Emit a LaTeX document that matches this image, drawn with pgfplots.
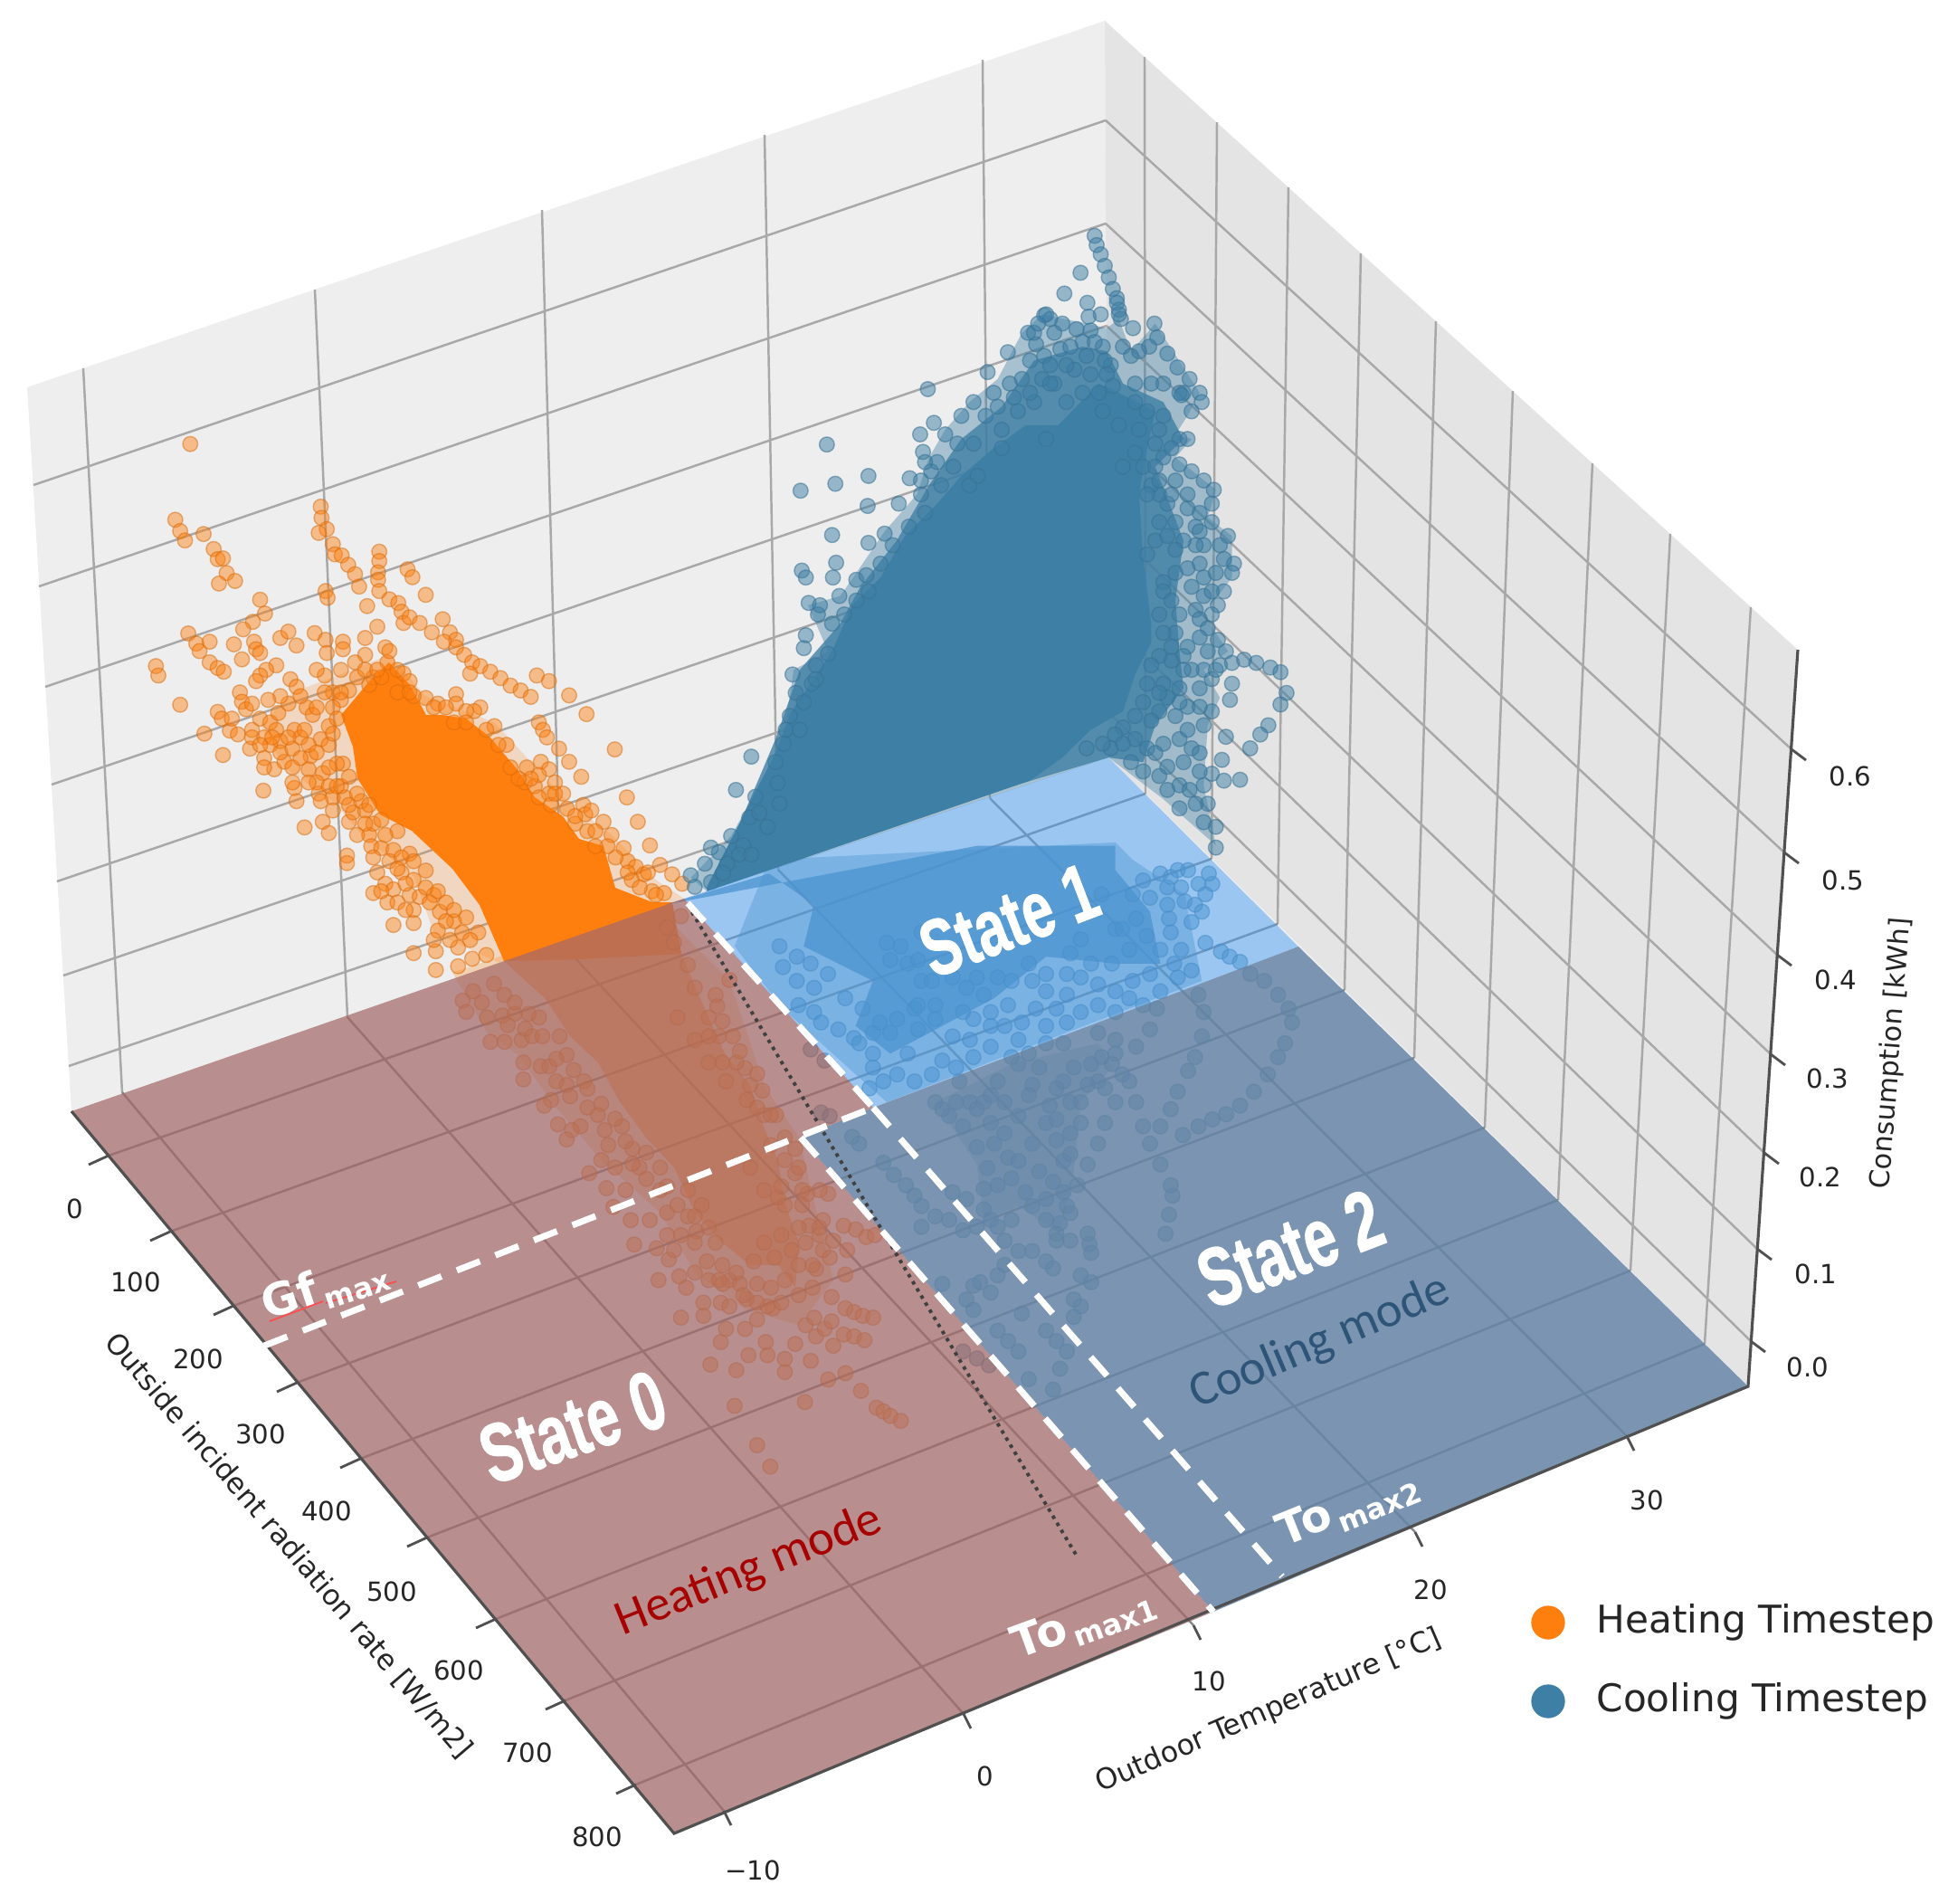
\documentclass[border=0pt]{standalone}
\usepackage{pgfplots}
\usepackage{pgfplotstable}
\usepackage{graphicx}
\usepackage{fontspec}
\pgfplotsset{compat=1.18}
\setmainfont{DejaVu Sans}
\newfontfamily\arialf{Liberation Sans}[BoldFeatures={FakeBold=1.5}]
\newfontfamily\carl{Carlito}

\definecolor{wallL}{HTML}{EEEEEE}
\definecolor{wallR}{HTML}{E4E4E4}
\definecolor{gridc}{HTML}{A8A8A8}
\definecolor{orangeC}{HTML}{FF7F0E}
\definecolor{blueC}{HTML}{3E7FA5}
\definecolor{st0}{HTML}{A46969}
\definecolor{st1}{HTML}{57A6F5}
\definecolor{st2}{HTML}{6685A7}
\definecolor{axisc}{HTML}{505050}
\definecolor{labelc}{HTML}{262626}
\definecolor{coolc}{HTML}{2E5578}

% points read off the crops, in crop pixels
\pgfplotstableread[row sep=\\]{
zx zy\\ 247 98\\ 210 300\\ 222 330\\ 234 355\\ 280 338\\ 305 378\\ 315 405\\ 328 403\\ 337 442\\ 358 463\\ 318 470\\
570 265\\ 572 295\\ 585 325\\ 565 335\\ 600 365\\ 605 392\\ 622 395\\ 638 420\\ 655 445\\ 665 478\\ 715 385\\ 715 410\\ 712 440\\ 712 460\\ 715 490\\ 785 432\\ 797 453\\ 830 500\\ 582 490\\ 587 508\\ 685 530\\ 420 513\\ 432 550\\ 402 572\\ 378 592\\ 740 512\\ 762 522\\ 770 545\\ 775 575\\ 790 560\\ 815 575\\ 710 585\\ 680 615\\ 845 600\\ 872 565\\ 890 600\\ 905 620\\ 875 625\\ 905 640\\ 925 660\\ 945 680\\ 965 690\\ 940 710\\ 990 705\\ 1015 722\\ 1040 742\\ 1065 755\\ 1090 772\\ 1105 715\\ 1135 730\\ 1185 768\\ 1228 818\\ 1298 912\\ 1110 840\\ 1120 860\\ 1130 880\\ 1160 910\\ 1185 945\\ 1215 985\\ 1115 945\\ 1135 965\\ 1150 1000\\ 1328 1040\\ 1355 1105\\ 1220 1060\\ 1225 1085\\ 1240 1075\\ 1270 1105\\ 1290 1140\\ 1320 1175\\ 1385 1168\\ 1330 1210\\ 1350 1225\\ 1410 1220\\ 1440 1245\\ 1465 1270\\ 1420 1295\\ 1370 1245\\
242 603\\ 262 630\\ 270 650\\ 295 625\\ 355 632\\ 375 672\\ 405 625\\ 410 645\\ 420 655\\ 295 680\\ 315 695\\ 330 705\\ 162 690\\ 168 715\\ 222 793\\ 470 615\\ 490 598\\ 510 635\\ 555 602\\ 582 620\\ 625 625\\ 625 645\\ 585 655\\ 680 660\\ 655 680\\ 730 640\\ 735 680\\ 460 688\\ 435 700\\ 420 715\\ 410 730\\ 495 725\\ 510 745\\ 580 715\\ 600 760\\ 640 755\\ 370 760\\ 375 785\\ 385 805\\ 315 812\\ 325 830\\ 282 870\\ 345 862\\ 365 872\\ 400 860\\ 420 830\\ 445 840\\ 465 815\\ 460 860\\ 470 890\\ 505 860\\ 535 800\\ 550 820\\ 570 885\\ 590 850\\ 395 910\\ 328 927\\ 430 935\\ 455 965\\ 480 945\\ 500 960\\ 545 930\\ 575 975\\ 505 1015\\ 510 1050\\ 428 1022\\ 565 1030\\ 600 1040\\ 630 1040\\ 600 1075\\ 530 1120\\ 575 1105\\ 590 1135\\ 640 1105\\ 625 950\\ 650 1080\\ 680 1075\\ 690 1140\\ 695 1170\\ 720 1175\\ 635 1195\\ 635 1215\\ 710 1240\\ 730 1270\\ 700 1295\\ 750 1285\\ 735 1320\\ 790 1300\\ 815 1305\\ 800 1340\\ 830 1235\\ 750 1380\\ 800 1375\\ 865 1345\\ 860 1395\\ 900 1370\\ 855 1450\\ 800 1455\\ 910 1440\\ 945 1470\\ 855 1500\\ 910 1490\\ 960 1400\\ 760 1130\\ 790 1190\\ 850 1300\\ 880 1320\\ 920 1400\\ 980 1460\\ 775 710\\ 790 730\\ 830 775\\ 905 765\\ 905 790\\ 965 800\\ 1075 1000\\ 1100 1010\\ 1135 1030\\
400 880\\ 430 880\\ 445 900\\ 430 960\\ 470 920\\ 500 910\\ 520 935\\ 540 965\\ 560 1000\\ 590 1010\\ 620 1010\\ 640 1060\\ 670 1050\\ 700 1110\\ 730 1140\\ 750 1180\\ 770 1240\\ 800 1260\\ 840 1320\\ 880 1370\\ 700 720\\ 660 720\\ 620 780\\ 600 800\\ 580 760\\ 560 700\\ 620 700\\ 680 700\\ 1170 1030\\ 1200 1110\\ 1230 1130\\ 1300 1200\\ 1340 1260\\ 1390 1290\\ 1110 980\\ 1080 960\\ 1030 900\\ 1000 850\\ 950 810\\ 860 790\\ 800 770\\ 760 760\\
620 760\\ 610 830\\ 590 900\\ 610 950\\ 640 985\\ 660 1030\\ 690 1060\\ 720 1100\\ 680 1110\\ 660 1140\\ 700 1200\\ 740 1210\\ 770 1200\\ 800 1210\\ 780 1270\\ 760 1320\\ 830 1280\\ 860 1290\\ 900 1340\\ 930 1360\\ 890 1420\\ 940 1420\\ 850 1420\\ 760 1230\\ 720 1290\\ 780 1340\\ 520 880\\ 540 900\\ 490 880\\ 450 880\\ 420 900\\ 500 1000\\ 540 1000\\ 570 1050\\ 610 1010\\ 590 960\\ 560 920\\ 530 860\\ 600 870\\ 560 800\\ 520 770\\ 490 790\\ 470 770\\ 440 780\\ 400 790\\ 350 830\\ 1090 990\\ 1110 1040\\ 1140 1060\\ 1180 1070\\ 1200 1090\\ 1250 1130\\ 1280 1170\\ 1330 1240\\ 1360 1280\\ 1250 1170\\ 1380 1240\\ 1400 1300\\ 1060 990\\ 1040 960\\ 1010 900\\ 980 860\\ 930 810\\ 1150 1030\\ 690 740\\ 720 720\\ 760 700\\ 740 650\\ 710 700\\ 790 760\\ 850 800\\ 880 800\\ 900 840\\ 930 840\\
}\orangewall

\pgfplotstableread[row sep=\\]{
zx zy\\ 30 255\\ 85 260\\ 40 285\\ 150 240\\ 145 295\\ 110 365\\ 150 365\\ 200 360\\ 205 420\\ 205 465\\ 255 430\\ 285 520\\ 265 535\\ 345 600\\ 305 585\\ 330 625\\ 370 590\\ 430 680\\ 395 715\\ 470 700\\ 445 755\\ 500 760\\ 465 805\\ 515 840\\ 570 840\\ 525 905\\ 590 915\\ 625 945\\ 640 920\\ 595 1000\\ 655 990\\ 675 1020\\ 725 1060\\ 725 1095\\ 660 1100\\ 775 1060\\ 790 1130\\ 775 1165\\ 745 1225\\ 820 1240\\ 855 1200\\ 815 1335\\ 880 1440\\ 918 1497\\ 1018 1325\\ 1085 1265\\ 1135 1248\\ 1180 1295\\ 1225 1340\\ 1245 1350\\ 1265 1362\\ 1295 1375\\ 1035 1215\\ 960 1245\\ 910 1200\\ 905 1165\\ 845 1130\\ 880 1105\\ 925 1075\\ 960 1210\\ 990 1170\\ 1020 1120\\ 1050 1150\\ 1075 1130\\ 1100 1175\\ 1130 1145\\ 1160 1150\\ 1190 1160\\ 1135 1075\\ 1160 1085\\ 1185 1095\\ 1215 1100\\ 1095 1045\\ 1045 1100\\ 1095 1110\\ 1040 1020\\ 1135 985\\ 1050 970\\ 1140 920\\ 1130 855\\ 1165 865\\ 1195 885\\ 1220 880\\ 1100 895\\ 1030 855\\ 1060 880\\ 1085 770\\ 1025 770\\ 990 715\\ 935 560\\ 895 495\\ 845 435\\ 810 350\\ 770 350\\ 740 350\\ 765 270\\ 800 200\\ 660 30\\ 250 300\\ 310 350\\ 330 400\\ 380 470\\ 430 530\\ 490 590\\ 540 700\\ 620 820\\ 680 830\\ 705 870\\ 735 950\\ 800 1000\\ 850 1050\\ 960 800\\ 1000 700\\ 1000 1040\\ 910 1070\\ 960 1000\\ 870 950\\ 780 1010\\ 700 980\\
100 300\\ 180 290\\ 230 350\\ 280 430\\ 330 480\\ 390 540\\ 440 600\\ 520 650\\ 560 730\\ 600 760\\ 650 800\\ 700 900\\ 740 1000\\ 780 960\\ 830 1010\\ 880 1010\\ 930 940\\ 980 920\\ 1020 900\\ 1070 840\\ 1000 860\\ 940 780\\ 900 760\\ 860 700\\ 960 680\\ 920 640\\ 900 560\\ 850 520\\ 790 470\\ 740 420\\ 700 360\\ 650 300\\
60 230\\ 120 210\\ 180 260\\ 220 290\\ 160 320\\ 210 330\\ 260 350\\ 300 410\\ 350 440\\ 300 470\\ 340 510\\ 390 490\\ 420 560\\ 470 570\\ 500 630\\ 450 640\\ 520 690\\ 560 660\\ 600 700\\ 620 750\\ 680 760\\ 720 800\\ 660 880\\ 620 880\\ 700 830\\ 740 860\\ 760 900\\ 770 1000\\ 820 980\\ 840 1040\\ 800 1070\\ 880 1060\\ 920 1020\\ 950 1060\\ 1000 960\\ 1040 960\\ 1070 920\\ 1090 940\\ 1060 760\\ 1010 760\\ 950 750\\ 990 650\\ 960 620\\ 920 560\\ 880 540\\ 860 480\\ 820 420\\ 780 420\\ 740 300\\ 760 240\\ 700 220\\ 680 160\\ 640 100\\ 620 60\\ 780 310\\ 830 390\\ 880 450\\ 1060 860\\ 1010 800\\ 950 880\\ 900 900\\
}\orangefloor

\pgfplotstableread[row sep=\\]{
zx zy\\ 1030 60\\ 1035 80\\ 1045 100\\ 1055 125\\ 1065 150\\ 1075 175\\ 1085 195\\ 1090 220\\ 1095 240\\ 1085 205\\ 1090 230\\
995 140\\ 955 185\\ 1012 205\\ 1015 235\\ 1045 230\\ 905 232\\ 920 240\\ 950 250\\ 985 262\\ 1020 265\\ 865 270\\ 885 295\\ 905 320\\ 815 312\\ 765 355\\ 870 330\\ 920 340\\ 945 305\\ 1010 320\\ 1050 300\\ 1070 340\\ 1055 330\\ 1060 360\\ 1075 385\\ 1100 300\\ 1125 260\\ 1178 250\\ 1185 280\\ 1210 315\\ 1235 345\\ 1265 370\\ 1290 400\\ 1295 420\\ 1270 440\\ 1250 400\\ 1120 320\\ 1140 310\\ 1165 300\\
617 392\\ 632 465\\ 598 490\\ 605 528\\ 572 585\\ 470 580\\ 367 512\\ 302 612\\ 388 597\\ 468 645\\ 545 640\\ 600 590\\ 625 570\\ 380 708\\ 470 725\\ 510 705\\ 390 768\\ 382 800\\ 305 785\\ 315 800\\ 440 805\\ 465 795\\ 398 840\\ 322 855\\ 345 880\\ 315 925\\ 310 953\\ 370 965\\ 340 990\\ 282 1010\\ 290 1050\\ 275 1100\\ 265 1130\\ 180 1188\\ 142 1260\\ 190 1275\\ 245 1245\\ 240 1200\\ 130 1360\\ 175 1320\\ 80 1385\\ 100 1395\\ 65 1420\\ 30 1445\\ 80 1460\\ 120 1420\\ 160 1380\\ 220 1340\\
660 490\\ 700 450\\ 730 420\\ 780 400\\ 820 380\\ 850 370\\ 880 420\\ 840 440\\ 800 480\\ 730 510\\ 640 550\\ 600 620\\ 720 600\\ 740 580\\ 800 520\\ 910 500\\ 960 420\\ 1000 400\\ 1050 440\\ 1090 470\\ 1140 480\\ 1200 450\\ 1240 500\\ 1260 500\\ 1200 540\\ 1240 555\\ 1270 570\\ 1300 590\\ 1325 610\\ 1320 640\\ 1290 660\\ 1260 650\\ 1210 640\\ 1190 620\\ 1170 600\\ 1150 560\\ 1220 620\\
1320 680\\ 1360 710\\ 1375 770\\ 1370 790\\ 1350 830\\ 1335 860\\ 1320 880\\ 1300 730\\ 1280 730\\ 1250 720\\ 1230 790\\ 1200 810\\ 1180 720\\ 1160 750\\ 1290 770\\ 1300 800\\ 1300 840\\ 1280 870\\ 1240 880\\ 1200 830\\ 1230 920\\ 1260 950\\ 1290 890\\ 1310 910\\ 1335 935\\ 1355 960\\ 1370 985\\ 1400 978\\ 1430 985\\ 1465 995\\ 1490 1005\\ 1505 1050\\ 1490 1075\\ 1460 1120\\ 1440 1140\\ 1415 1170\\ 1370 1030\\ 1365 1065\\ 1320 1090\\ 1320 1020\\ 1300 1000\\ 1290 1040\\ 1270 1000\\ 1250 970\\ 1220 980\\ 1190 970\\ 1160 1030\\ 1200 1030\\ 1240 1040\\ 1260 1080\\ 1300 1120\\ 1355 1145\\ 1230 1100\\ 1190 1090\\ 1170 1110\\ 1100 1125\\ 1130 1150\\ 1160 1170\\ 1200 1160\\ 1240 1150\\ 1270 1170\\ 1210 1210\\ 1240 1250\\ 1265 1260\\ 1300 1250\\ 1345 1195\\ 1320 1225\\ 1390 1238\\ 1350 1240\\ 1310 1290\\ 1330 1340\\ 1300 1330\\ 1330 1385\\ 1280 1290\\ 1240 1300\\ 1210 1260\\ 1190 1230\\ 1150 1220\\ 1120 1200\\ 1080 1140\\ 1070 1170\\
350 860\\ 380 900\\ 410 880\\ 440 850\\ 470 830\\ 500 770\\ 530 730\\ 570 690\\ 610 660\\ 650 600\\ 680 560\\ 610 550\\ 690 510\\ 760 450\\ 790 430\\ 830 410\\ 870 400\\ 900 370\\ 930 380\\ 980 350\\ 1020 360\\ 1040 400\\ 330 1030\\ 310 1070\\ 300 1130\\ 340 1020\\ 260 1160\\ 250 1290\\ 200 1310\\ 150 1400\\ 180 1400\\ 110 1440\\ 40 1470\\
1130 420\\ 1160 440\\ 1190 480\\ 1220 520\\ 1180 560\\ 1160 620\\ 1190 680\\ 1210 710\\ 1230 740\\ 1260 780\\ 1270 820\\ 1220 850\\ 1190 880\\ 1200 920\\ 1220 950\\ 1250 1000\\ 1240 1070\\ 1210 1060\\ 1190 1050\\ 1150 1070\\ 1130 1100\\ 1100 1160\\ 1050 1160\\ 1010 1170\\ 1180 1180\\ 1260 1130\\ 1290 1180\\ 1290 1220\\ 1250 1200\\ 1290 1080\\ 1330 1000\\ 1310 960\\ 1340 990\\ 1290 930\\ 1170 990\\ 1230 680\\ 1280 690\\ 1340 730\\ 1350 760\\ 1330 790\\ 1320 830\\ 1290 700\\ 1260 620\\ 1230 590\\ 1190 590\\ 1130 530\\ 1100 560\\ 1180 510\\ 1200 380\\ 1170 380\\ 1130 380\\ 1240 400\\ 1245 405\\ 1000 290\\ 970 300\\ 1030 290\\ 880 270\\ 890 250\\ 910 230\\ 930 270\\ 960 340\\ 920 380\\
}\bluewall

\pgfplotstableread[row sep=\\]{
zx zy\\ 40 310\\ 80 350\\ 130 370\\ 85 420\\ 130 440\\ 150 470\\ 200 490\\ 245 515\\ 260 530\\ 290 660\\ 300 560\\ 350 500\\ 430 490\\ 440 350\\ 350 290\\ 400 300\\ 600 340\\ 500 580\\ 580 520\\ 720 520\\ 800 480\\ 860 390\\ 870 270\\ 900 230\\ 1000 200\\ 1050 100\\ 1150 130\\ 1155 170\\ 1180 30\\ 1240 70\\ 1260 240\\ 1305 265\\ 1330 280\\ 1360 295\\ 1220 180\\ 1220 320\\ 1120 430\\ 1100 490\\ 1000 440\\ 950 500\\ 900 440\\ 800 380\\ 750 300\\ 690 420\\ 640 480\\ 560 440\\ 480 420\\ 400 560\\ 300 500\\ 420 430\\ 960 100\\ 1020 200\\ 1100 330\\ 1180 340\\ 850 530\\ 950 360\\ 1050 350\\ 1150 80\\ 1200 120\\ 1280 70\\ 1080 60\\ 920 150\\
30 250\\ 80 280\\ 120 300\\ 170 330\\ 220 400\\ 270 430\\ 320 470\\ 370 460\\ 430 420\\ 480 460\\ 530 510\\ 590 460\\ 640 440\\ 680 480\\ 730 470\\ 770 430\\ 830 430\\ 860 470\\ 800 530\\ 750 560\\ 700 570\\ 640 540\\ 590 570\\ 540 600\\ 470 620\\ 420 640\\ 370 620\\ 330 640\\ 300 600\\ 950 420\\ 1000 380\\ 1040 400\\ 1080 420\\ 1130 380\\ 1170 300\\ 1190 260\\ 1130 260\\ 1160 210\\ 1230 130\\ 1190 80\\ 1260 100\\ 1270 40\\ 1210 30\\ 1130 40\\ 1100 110\\ 1060 170\\ 1090 220\\ 1040 260\\ 990 300\\ 930 300\\ 900 340\\ 860 330\\ 800 330\\ 760 350\\ 700 350\\ 660 340\\ 620 390\\ 570 370\\ 530 340\\ 470 350\\ 430 290\\ 380 250\\ 340 240\\ 440 210\\ 1160 50\\ 1250 150\\
1390 330\\ 1430 350\\ 1470 390\\ 1500 430\\ 1510 470\\ 1490 530\\ 1470 570\\ 1440 620\\ 1400 670\\ 1360 710\\ 1320 735\\ 1280 750\\ 1240 770\\ 1195 795\\ 1240 390\\ 1255 440\\ 1250 510\\ 1230 570\\ 1210 610\\ 1180 670\\ 1160 720\\ 1130 770\\ 1040 640\\ 1060 700\\ 1080 770\\ 1100 820\\ 1130 880\\ 1160 940\\ 1165 970\\ 1155 1025\\ 1145 1080\\ 1000 700\\ 970 760\\ 950 820\\ 920 880\\ 890 940\\ 860 1000\\ 840 1050\\ 830 1100\\ 800 1160\\
480 700\\ 520 740\\ 560 770\\ 600 830\\ 630 890\\ 620 1010\\ 640 1040\\ 660 1060\\ 560 1070\\ 520 1040\\ 480 1030\\ 440 1060\\ 440 1000\\ 420 970\\ 395 940\\ 360 910\\ 330 875\\ 240 800\\ 260 820\\ 680 790\\ 720 740\\ 760 650\\ 800 760\\ 830 810\\ 850 870\\ 780 900\\ 740 960\\ 800 1040\\ 830 1080\\ 870 1020\\ 850 960\\ 900 700\\ 950 640\\ 990 590\\ 1000 520\\ 930 590\\ 880 600\\ 830 660\\ 780 600\\ 720 590\\ 660 640\\ 620 700\\ 580 700\\ 550 640\\ 1060 540\\ 870 1100\\ 820 1180\\ 760 1130\\ 920 1080\\ 925 1110\\ 930 1135\\ 900 1200\\ 930 1220\\ 880 1270\\ 900 1290\\ 880 1320\\ 730 1310\\ 680 1170\\ 660 1200\\ 640 1250\\ 610 1220\\ 590 1230\\ 570 1270\\ 590 1300\\ 500 1225\\ 660 1360\\ 690 1390\\ 720 1420\\ 800 1360\\ 830 1390\\ 860 1420\\ 840 1470\\ 820 1530\\ 750 1500\\ 560 1420\\ 600 1440\\ 635 1460\\ 150 730\\ 175 740\\ 120 548\\ 160 580\\
500 720\\ 540 700\\ 600 720\\ 640 760\\ 650 820\\ 690 860\\ 720 870\\ 760 820\\ 810 710\\ 850 640\\ 870 700\\ 830 750\\ 870 790\\ 900 760\\ 870 850\\ 700 920\\ 660 940\\ 620 950\\ 570 980\\ 530 960\\ 760 1000\\ 700 1040\\ 680 1100\\ 720 1130\\ 600 1060\\ 820 930\\ 800 980\\ 750 680\\ 680 700\\ 640 680\\ 1000 560\\ 960 570\\ 970 660\\ 1020 620\\ 920 650\\
}\bluefloor

\pgfplotsset{
  /pgfplots/table/cropA/.style={/pgfplots/table/x expr=100+\thisrow{zx}/2.24, /pgfplots/table/y expr=450+\thisrow{zy}/2.412},
  /pgfplots/table/cropB/.style={/pgfplots/table/x expr=750+\thisrow{zx}/2.24, /pgfplots/table/y expr=230+\thisrow{zy}/1.96},
  /pgfplots/table/cropC/.style={/pgfplots/table/x expr=500+\thisrow{zx}/2.613, /pgfplots/table/y expr=1000+\thisrow{zy}/2.412},
  /pgfplots/table/cropD/.style={/pgfplots/table/x expr=850+\thisrow{zx}/2.613, /pgfplots/table/y expr=950+\thisrow{zy}/2.613},
  orangepts/.style={only marks, mark=*, mark size=2.35pt, mark options={fill=orangeC, draw=orangeC!85!black, fill opacity=.45, draw opacity=.5, line width=.4pt}},
  bluepts/.style={only marks, mark=*, mark size=2.35pt, mark options={fill=blueC, draw=blueC!90!black, fill opacity=.5, draw opacity=.55, line width=.4pt}},
  whitedash/.style={white, line width=2pt, dash pattern=on 7.8pt off 5.2pt},
}

\begin{document}
\begin{tikzpicture}
\begin{axis}[
  x=0.01cm, y=0.01cm,
  xmin=0, xmax=2164, ymin=0, ymax=2104,
  y dir=reverse,
  hide axis,
  clip=true,
  clip mode=individual,
  clip marker paths=true,
  unbounded coords=jump,
]
% page, keeps the picture at full size
\addplot[fill=white, draw=none] coordinates {(0,0) (2164,0) (2164,2104) (0,2104)} --cycle;
% panes
\addplot[fill=wallL, draw=none] coordinates {(79,1228) (30,428) (1221,23) (1225,837)} --cycle;
\addplot[fill=wallR, draw=none] coordinates {(1225,837) (1221,23) (1987,718) (1932,1532)} --cycle;
\addplot[fill=wallL, draw=none] coordinates {(79,1228) (1225,837) (1932,1532) (745,2026)} --cycle;
% grid on the walls
\addplot[gridc, line width=.7pt] coordinates {
 (92,407) (135,1207) (nan,nan) (348,320) (384,1124) (nan,nan) (599,232) (621,1043) (nan,nan) (845,149) (860,961) (nan,nan) (1086,66) (1094,882) (nan,nan)
 (76,1178) (1225,787) (nan,nan) (70,1078) (1224,685) (nan,nan) (63,974) (1224,579) (nan,nan) (57,867) (1223,470) (nan,nan) (50,759) (1223,360) (nan,nan) (43,648) (1222,247) (nan,nan) (37,536) (1222,133) (nan,nan)
 (1225,787) (1935,1482) (nan,nan) (1224,685) (1942,1380) (nan,nan) (1224,579) (1950,1274) (nan,nan) (1223,470) (1957,1165) (nan,nan) (1223,360) (1964,1055) (nan,nan) (1222,247) (1972,942) (nan,nan) (1222,133) (1980,828) (nan,nan)
 (1265,63) (1266,877) (nan,nan) (1345,135) (1339,949) (nan,nan) (1424,207) (1412,1021) (nan,nan) (1504,280) (1486,1094) (nan,nan) (1587,355) (1563,1169) (nan,nan) (1672,432) (1641,1246) (nan,nan) (1760,512) (1722,1326) (nan,nan) (1846,590) (1802,1404) (nan,nan) (1935,671) (1884,1485)
};
% grid on the floor
\addplot[gridc!80!black, line width=.7pt] coordinates {
 (120,1277) (1266,877) (nan,nan) (188,1361) (1339,949) (nan,nan) (258,1443) (1412,1021) (nan,nan) (328,1528) (1486,1094) (nan,nan) (398,1612) (1563,1169) (nan,nan) (472,1699) (1641,1246) (nan,nan) (548,1789) (1722,1326) (nan,nan) (625,1879) (1802,1404) (nan,nan) (703,1972) (1884,1485) (nan,nan)
 (800,2001) (135,1207) (nan,nan) (1065,1894) (384,1124) (nan,nan) (1319,1796) (621,1043) (nan,nan) (1564,1693) (860,961) (nan,nan) (1798,1587) (1094,882)
};
% dense cores of the clouds
\addplot[fill=orangeC, draw=none, opacity=.2] table[cropA, row sep=\\] {zx zy\\ 600 720\\ 740 660\\ 830 770\\ 1000 840\\ 1180 1050\\ 1290 1140\\ 1400 1260\\ 1470 1310\\ 1010 1480\\ 850 1400\\ 800 1250\\ 680 1150\\ 600 1050\\ 480 960\\ 420 850\\ 500 760\\} --cycle;
\addplot[fill=orangeC, draw=none] coordinates {
 (377,790) (408,753) (430,732) (453,757) (471,790) (488,790) (515,794) (542,815) (573,852) (591,881) (622,902) (640,927) (667,935) (680,981) (721,997) (743,997) (753,1054) (640,1060) (557,1062) (530,1000) (500,960) (455,918) (420,900) (395,860) (390,825)
} --cycle;
\addplot[fill=orangeC, draw=none, opacity=.25] table[cropC, row sep=\\] {zx zy\\ 0 180\\ 580 0\\ 800 200\\ 900 480\\ 1000 620\\ 1060 850\\ 1100 1000\\ 1000 1120\\ 850 1080\\ 700 980\\ 600 820\\ 430 680\\ 300 540\\ 190 400\\ 100 340\\} --cycle;
\addplot[fill=orangeC, draw=none, opacity=.55] coordinates {
 (557,1062) (730,1008) (753,1054) (776,1108) (802,1166) (829,1199) (844,1245) (860,1282) (867,1328) (883,1373) (879,1423) (860,1398) (829,1398) (798,1373) (768,1340) (745,1290) (714,1257) (684,1216) (661,1174) (630,1145) (603,1104)
} --cycle;
\addplot[orangepts] table[cropA] {\orangewall};
\addplot[orangepts] table[cropC] {\orangefloor};
\addplot[fill=blueC, draw=none, opacity=.4] table[cropB, row sep=\\] {zx zy\\ 30 1450\\ 130 1360\\ 230 1200\\ 265 1120\\ 285 1000\\ 370 960\\ 320 860\\ 400 840\\ 440 790\\ 510 700\\ 590 620\\ 620 540\\ 660 480\\ 720 420\\ 790 370\\ 850 270\\ 900 230\\ 1010 250\\ 1060 260\\ 1090 240\\ 1120 310\\ 1180 250\\ 1290 400\\ 1260 450\\ 1230 490\\ 1270 500\\ 1230 540\\ 1330 610\\ 1310 670\\ 1370 710\\ 1370 800\\ 1300 880\\ 1360 960\\ 1300 1000\\ 1340 1060\\ 1310 1120\\ 1300 1250\\ 1330 1380\\ 1200 1280\\ 1065 1190\\ 70 1480\\} --cycle;
\addplot[fill=blueC, draw=none, opacity=.8] table[cropB, row sep=\\] {zx zy\\ 100 1440\\ 240 1150\\ 300 1000\\ 400 900\\ 450 820\\ 540 720\\ 620 600\\ 700 500\\ 800 430\\ 880 330\\ 1000 300\\ 1060 310\\ 1100 380\\ 1200 420\\ 1250 500\\ 1180 560\\ 1250 720\\ 1230 850\\ 1240 960\\ 1250 1040\\ 1180 1120\\ 1150 1200\\ 1065 1190\\} --cycle;
\addplot[fill=blueC, draw=none] table[cropB, row sep=\\] {zx zy\\ 70 1470\\ 240 1180\\ 280 1090\\ 380 960\\ 430 860\\ 500 800\\ 560 710\\ 640 640\\ 700 580\\ 780 520\\ 860 470\\ 940 470\\ 1040 380\\ 1090 400\\ 1180 440\\ 1160 520\\ 1140 620\\ 1150 760\\ 1170 900\\ 1170 940\\ 1130 1010\\ 1100 1090\\ 1020 1130\\ 950 1190\\ 870 1240\\ 70 1480\\} --cycle;
\addplot[fill=blueC, draw=none, opacity=.4] table[cropD, row sep=\\] {zx zy\\ -100 250\\ 40 430\\ 250 620\\ 340 700\\ 700 560\\ 1250 350\\ 1200 100\\ 1050 0\\ 1000 -50\\ 0 0\\} --cycle;
\addplot[fill=blueC, draw=none, opacity=.75] table[cropD, row sep=\\] {zx zy\\ -300 130\\ 0 40\\ 130 130\\ 100 250\\ 300 350\\ 250 480\\ 350 560\\ 500 480\\ 650 400\\ 800 280\\ 1000 300\\ 1130 300\\ 1100 150\\ 1000 30\\ 1000 -40\\ 600 -40\\} --cycle;
\addplot[fill=blueC, draw=none, opacity=.35] table[cropD, row sep=\\] {zx zy\\ 480 700\\ 700 590\\ 950 530\\ 990 600\\ 900 700\\ 880 900\\ 840 1080\\ 720 1000\\ 620 1040\\ 600 880\\} --cycle;
\addplot[bluepts] table[cropB] {\bluewall};
\addplot[bluepts] table[cropD] {\bluefloor};
% floor states
\addplot[fill=st0, fill opacity=.72, draw=none] coordinates {(79,1228) (756,993) (965,1224) (885,1257) (1341,1781) (745,2026)} --cycle;
\addplot[fill=st1, fill opacity=.55, draw=none] coordinates {(756,993) (1225,837) (1435,1046) (965,1224)} --cycle;
\addplot[fill=st2, fill opacity=.85, draw=none] coordinates {(965,1224) (1435,1046) (1932,1532) (1341,1781) (885,1257)} --cycle;
% axes
\addplot[axisc, line width=.9pt] coordinates {(79,1228) (745,2026) (1932,1532) (1987,718)};
\addplot[axisc, line width=.8pt] coordinates {
 (120,1277) (98,1287) (nan,nan) (188,1361) (166,1371) (nan,nan) (258,1443) (236,1453) (nan,nan) (328,1528) (306,1538) (nan,nan) (398,1612) (376,1622) (nan,nan) (472,1699) (450,1709) (nan,nan) (548,1789) (526,1799) (nan,nan) (625,1879) (603,1889) (nan,nan) (703,1972) (681,1982) (nan,nan)
 (800,2001) (808,2017) (nan,nan) (1065,1894) (1073,1910) (nan,nan) (1319,1796) (1327,1812) (nan,nan) (1564,1693) (1572,1709) (nan,nan) (1798,1587) (1806,1603) (nan,nan)
 (1935,1482) (1951,1494) (nan,nan) (1942,1380) (1958,1392) (nan,nan) (1950,1274) (1966,1286) (nan,nan) (1957,1165) (1973,1177) (nan,nan) (1964,1055) (1980,1067) (nan,nan) (1972,942) (1988,954) (nan,nan) (1980,828) (1996,840)
};
% thresholds
\addplot[black!75, line width=1.1pt, dash pattern=on 1.1pt off 1.5pt] coordinates {(760,1000) (1191,1721)};
\addplot[whitedash] coordinates {(760,998) (965,1224)};
\addplot[whitedash] coordinates {(885,1257) (1341,1781)};
\addplot[whitedash] coordinates {(292,1487) (965,1224)};
\addplot[whitedash] coordinates {(965,1224) (1417,1742)};
% red proofing squiggles under Gf max
\addplot[red!70!white, line width=.5pt] coordinates {(298,1460) (357,1438) (nan,nan) (360,1440) (438,1416)};
% legend markers
\addplot[only marks, mark=*, mark size=5.1pt, mark options={fill=orangeC, draw=orangeC}] coordinates {(1711,1793)};
\addplot[only marks, mark=*, mark size=5.1pt, mark options={fill=blueC, draw=blueC}] coordinates {(1711,1880)};

% tick labels
\newcommand{\ticklab}[3]{\node[text=labelc, font=\fontsize{8.3pt}{10pt}\selectfont] at (axis cs:#1,#2) {#3};}
\ticklab{83}{1336}{0}
\ticklab{150}{1417}{100}
\ticklab{219}{1502}{200}
\ticklab{288}{1585}{300}
\ticklab{361}{1670}{400}
\ticklab{433}{1759}{500}
\ticklab{507}{1846}{600}
\ticklab{583}{1937}{700}
\ticklab{660}{2030}{800}
\ticklab{832}{2067}{−10}
\ticklab{1089}{1963}{0}
\ticklab{1336}{1858}{10}
\ticklab{1581}{1757}{20}
\ticklab{1820}{1658}{30}
\ticklab{1998}{1511}{0.0}
\ticklab{2007}{1408}{0.1}
\ticklab{2012}{1301}{0.2}
\ticklab{2020}{1192}{0.3}
\ticklab{2029}{1083}{0.4}
\ticklab{2037}{973}{0.5}
\ticklab{2045}{858}{0.6}
\node[text=labelc, rotate=-49.5, font=\fontsize{8.9pt}{10pt}\selectfont] at (axis cs:319,1708) {Outside incident radiation rate [W/m2]};
\node[text=labelc, rotate=23.4, font=\fontsize{9pt}{10pt}\selectfont] at (axis cs:1402,1891) {Outdoor Temperature [°C]};
\node[text=labelc, rotate=85.6, font=\fontsize{8.6pt}{10pt}\selectfont] at (axis cs:2091,1164) {Consumption [kWh]};

% annotations on the floor
\node[white, rotate=19] at (axis cs:633,1577) {\fontsize{26pt}{28pt}\selectfont\arialf\bfseries\scalebox{.7}[1]{State 0}};
\node[white, rotate=21] at (axis cs:1115,1017) {\fontsize{25pt}{28pt}\selectfont\arialf\bfseries\scalebox{.7}[1]{State 1}};
\node[white, rotate=21] at (axis cs:1426,1380) {\fontsize{26pt}{28pt}\selectfont\arialf\bfseries\scalebox{.7}[1]{State 2}};
\node[text=red!65!black, rotate=22] at (axis cs:828,1736) {\fontsize{15.5pt}{18pt}\selectfont\carl Heating mode};
\node[text=coolc, rotate=23] at (axis cs:1459,1484) {\fontsize{15.5pt}{18pt}\selectfont\carl Cooling mode};
\node[white, rotate=18] at (axis cs:359,1424) {\fontsize{14pt}{15pt}\selectfont\bfseries Gf\raisebox{-3pt}{\fontsize{9pt}{10pt}\selectfont\,max}};
\node[white, rotate=20] at (axis cs:1198,1794) {\fontsize{14pt}{15pt}\selectfont\bfseries To\raisebox{-3pt}{\fontsize{9pt}{10pt}\selectfont\,max1}};
\node[white, rotate=22] at (axis cs:1490,1667) {\fontsize{14pt}{15pt}\selectfont\bfseries To\raisebox{-3pt}{\fontsize{9pt}{10pt}\selectfont\,max2}};
% legend text
\node[anchor=west, inner sep=0pt, text=labelc] at (axis cs:1764,1793) {\fontsize{12pt}{13pt}\selectfont Heating Timestep};
\node[anchor=west, inner sep=0pt, text=labelc] at (axis cs:1764,1880) {\fontsize{12pt}{13pt}\selectfont Cooling Timestep};
\end{axis}
\end{tikzpicture}
\end{document}
